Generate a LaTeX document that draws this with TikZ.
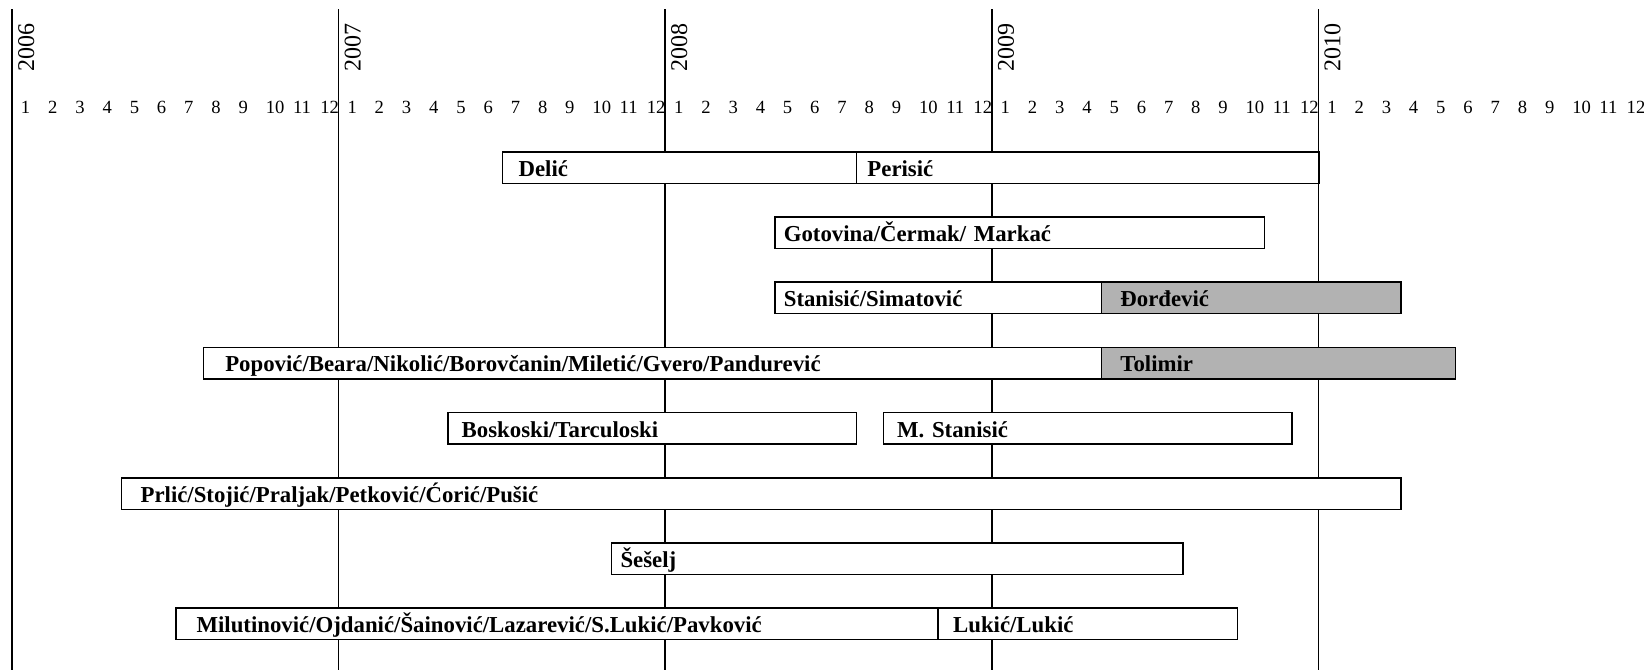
\documentclass[tikz,border=0pt]{standalone}
\usepackage{fontspec}
\setmainfont{Liberation Serif}
\newcommand\tlbar[7]{%
  \pgfmathsetmacro\tlx{12+27.2167*(#2)}%
  \pgfmathsetmacro\tlw{27.2167*((#3)-(#2))*0.5}%
  \pgfmathsetmacro\tltw{\tlw-(#5)}%
  \pgfmathsetmacro\tly{151+65.2*((#4)-1)}%
  \node[barbox,#6,minimum width=\tlw pt,text width=\tltw pt,inner xsep=#5*0.5pt] (#1) at (\tlx,\tly) {#7};%
}
\begin{document}
\begin{tikzpicture}[x=0.5pt,y=-0.5pt,
  yearline/.style={line width=0.75pt},
  barbox/.style={draw,line width=0.75pt,fill=white,anchor=north west,minimum height=15.75pt,
    text height=8.75pt,text depth=0pt,align=left,inner ysep=0pt,
    font=\bfseries\fontsize{11.4}{13}\selectfont},
  greybar/.style={fill=black!30},
  monthlbl/.style={anchor=base west,inner sep=0pt,font=\fontsize{9.3}{11}\selectfont},
  yearlbl/.style={anchor=base west,rotate=90,inner sep=0pt,font=\fontsize{12}{14}\selectfont}]
\useasboundingbox (0,0) rectangle (1644,670);
\foreach \k in {0,...,4} {
  \pgfmathsetmacro\lx{12+326.6*\k}
  \coordinate (yt\k) at (\lx,9);
  \coordinate (yb\k) at (\lx,670);
  \draw[yearline] (yt\k) -- (yb\k);
  \pgfmathtruncatemacro\yr{2006+\k}
  \node[yearlbl] (yl\k) at (\lx+22,72) {\yr};
  \foreach \m in {1,...,12} {
    \node[monthlbl] (m\k-\m) at ({\lx+27.2167*(\m-1)+8.5},113) {\m};
  }
}
\tlbar{delic}{18}{31}{1}{16}{}{Delić}
\tlbar{perisic}{31}{48}{1}{11}{}{Perisić}
\tlbar{gotovina}{28}{46}{2}{9}{}{Gotovina/Čermak/ Markać}
\tlbar{stanisic}{28}{40}{3}{9}{}{Stanisić/Simatović}
\tlbar{djordjevic}{40}{51}{3}{19}{greybar}{Đorđević}
\tlbar{popovic}{7}{40}{4}{22}{}{Popović/Beara/Nikolić/Borovčanin/Miletić/Gvero/Pandurević}
\tlbar{tolimir}{40}{53}{4}{19}{greybar}{Tolimir}
\tlbar{boskoski}{16}{31}{5}{13.5}{}{Boskoski/Tarculoski}
\tlbar{mstanisic}{32}{47}{5}{13.5}{}{M. Stanisić}
\tlbar{prlic}{4}{51}{6}{19}{}{Prlić/Stojić/Praljak/Petković/Ćorić/Pušić}
\tlbar{seselj}{22}{43}{7}{9}{}{Šešelj}
\tlbar{milutinovic}{6}{34}{8}{20.5}{}{Milutinović/Ojdanić/Šainović/Lazarević/S.Lukić/Pavković}
\tlbar{lukic}{34}{45}{8}{15}{}{Lukić/Lukić}
\end{tikzpicture}
\end{document}
